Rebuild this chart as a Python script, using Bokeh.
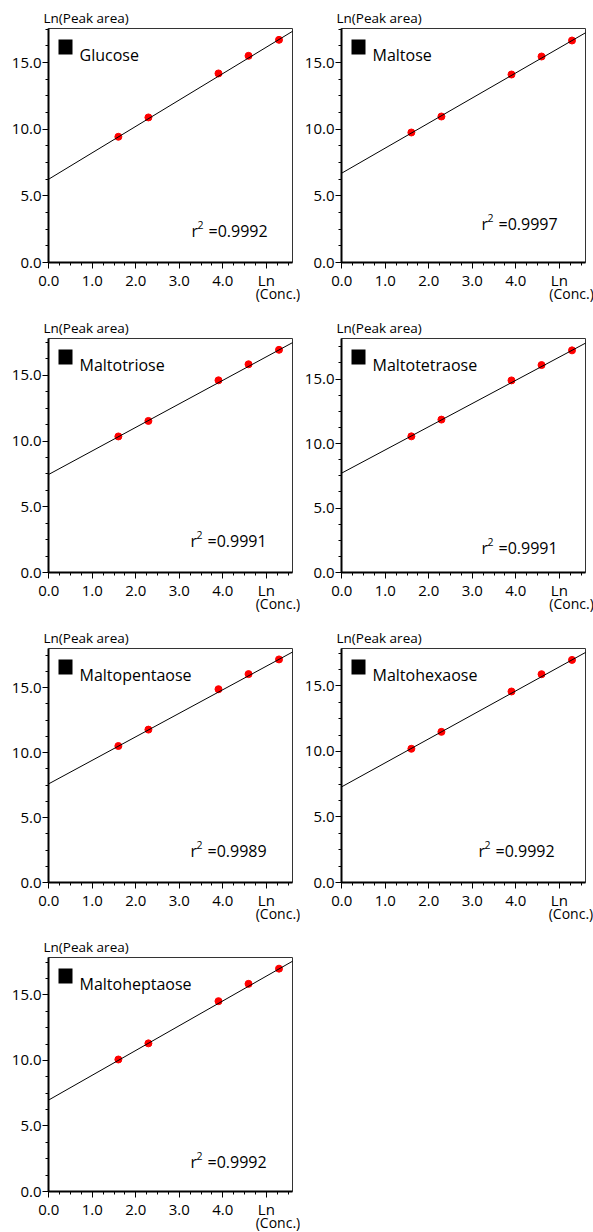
from bokeh.plotting import figure
from bokeh.models import (Range1d, FixedTicker, Label, BoxAnnotation, PrintfTickFormatter,
                          Slope, LinearAxis, AllLabels)
from bokeh.layouts import gridplot
from bokeh.embed import file_html
from bokeh.resources import INLINE

# ---- data ----
names = ["Glucose", "Maltose", "Maltotriose", "Maltotetraose",
         "Maltopentaose", "Maltohexaose", "Maltoheptaose"]
r2_values = ["0.9992", "0.9997", "0.9991", "0.9991", "0.9989", "0.9992", "0.9992"]
ln_conc = [1.60, 2.29, 3.90, 4.59, 5.29]

glucose = [9.43, 10.88, 14.18, 15.50, 16.70]
maltose = [9.75, 10.95, 14.10, 15.45, 16.65]
maltotriose = [10.35, 11.53, 14.62, 15.84, 16.94]
maltotetraose = [10.56, 11.86, 14.90, 16.09, 17.23]
maltopentaose = [10.50, 11.76, 14.87, 16.03, 17.16]
maltohexaose = [10.20, 11.49, 14.57, 15.89, 16.98]
maltoheptaose = [10.07, 11.30, 14.52, 15.84, 17.00]
series = [glucose, maltose, maltotriose, maltotetraose,
          maltopentaose, maltohexaose, maltoheptaose]

intercepts = [6.25, 6.70, 7.46, 7.71, 7.59, 7.30, 6.98]
slopes = [1.98, 1.88, 1.79, 1.80, 1.81, 1.83, 1.89]

x_ticks = [0, 1, 2, 3, 4, 5]
y_ticks = [0, 5, 10, 15]
y_max = [17.55, 17.55, 17.8, 18.15, 18.0, 17.85, 17.85]
x_title = "Ln"
x_title2 = "(Conc.)"
y_title = "Ln(Peak area)"

FONT = "Open Sans"

# layout (per panel): left border, right border, top border, bottom border, r2 label x, r2 label y
layout_cfg = [
    (48, 8, 28, 48, 143, 32),
    (38, 11, 28, 48, 140, 39),
    (48, 8, 28, 48, 142, 32),
    (38, 11, 28, 48, 140, 25),
    (48, 8, 28, 48, 142, 32),
    (41, 8, 28, 48, 137, 32),
    (48, 8, 27, 41, 142, 30),
]

FW, FH = 244, 234


def style_axis(ax):
    ax.axis_line_width = 2
    ax.axis_line_color = "black"
    ax.major_tick_out = 6
    ax.major_tick_in = 0
    ax.minor_tick_out = 3
    ax.minor_tick_in = 0
    ax.major_tick_line_color = "black"
    ax.minor_tick_line_color = "black"
    ax.major_label_text_font = FONT
    ax.major_label_text_font_size = "15px"
    ax.major_label_text_color = "black"
    ax.major_label_standoff = 1
    ax.major_label_policy = AllLabels()
    ax.formatter = PrintfTickFormatter(format="%.1f")


def add_text(p, x, y, text, size):
    p.add_layout(Label(x=x, y=y, x_units="screen", y_units="screen",
                       text=text, text_font=FONT, text_font_size=size,
                       text_color="black", text_baseline="alphabetic"))


def make_panel(i):
    bl, br, bt, bb, rx, ry = layout_cfg[i]
    p = figure(frame_width=FW, frame_height=FH, output_backend="svg",
               toolbar_location=None, min_border_left=bl, min_border_right=br,
               min_border_top=bt, min_border_bottom=bb,
               x_range=Range1d(-0.005, 5.6), y_range=Range1d(0, y_max[i]),
               background_fill_color="white", border_fill_color="white")
    p.grid.visible = False
    p.outline_line_color = "#333333"
    p.outline_line_width = 1

    p.title.text = y_title
    p.title.align = "left"
    p.title.offset = -5
    p.title.standoff = 3
    p.title.text_font = FONT
    p.title.text_font_size = "13.5px"
    p.title.text_font_style = "normal"
    p.title.text_color = "black"

    style_axis(p.xaxis[0])
    style_axis(p.yaxis[0])

    p.xaxis[0].ticker = FixedTicker(ticks=x_ticks,
                                    minor_ticks=[k * 0.25 for k in range(23)])
    p.xaxis[0].major_label_overrides = {5: x_title}
    p.yaxis[0].ticker = FixedTicker(ticks=y_ticks,
                                    minor_ticks=[k * 1.25 for k in range(15)])

    # second line of the x title "(Conc.)" as a tick-less extra axis
    ax2 = LinearAxis(ticker=FixedTicker(ticks=[5.28], minor_ticks=[]),
                     major_label_overrides={5.28: x_title2},
                     axis_line_color=None, major_tick_line_color=None,
                     minor_tick_line_color=None, major_tick_out=0, major_tick_in=0,
                     major_label_standoff=-9,
                     major_label_text_font=FONT, major_label_text_font_size="14px",
                     major_label_text_color="black")
    p.add_layout(ax2, "below")

    p.add_layout(Slope(gradient=slopes[i], y_intercept=intercepts[i],
                       line_color="black", line_width=1))
    p.scatter(ln_conc, series[i], size=7, color="#ff0000", line_color="#ff0000")

    p.add_layout(BoxAnnotation(left=10, right=24, bottom=FH - 26, top=FH - 11,
                               left_units="screen", right_units="screen",
                               bottom_units="screen", top_units="screen",
                               fill_color="black", fill_alpha=1, line_color=None))
    add_text(p, 31, FH - 26, names[i], "16px")
    # r² annotation: "r", raised "2", then "=value"
    add_text(p, rx, ry, "r", "16px")
    add_text(p, rx + 6, ry + 6, "2", "10.5px")
    add_text(p, rx + 17, ry, "=" + r2_values[i], "16px")
    return p


panels = [make_panel(i) for i in range(7)]
grid = gridplot([[panels[0], panels[1]],
                 [panels[2], panels[3]],
                 [panels[4], panels[5]],
                 [panels[6], None]], toolbar_location=None)

open("out.html", "w").write(file_html(grid, INLINE))
